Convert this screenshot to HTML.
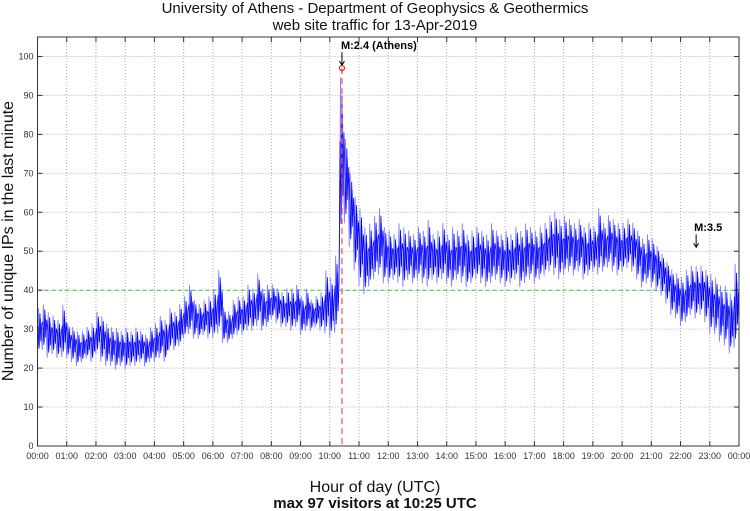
<!DOCTYPE html>
<html><head><meta charset="utf-8"><style>
html,body{margin:0;padding:0;background:#fff;}
svg{display:block;font-family:"Liberation Sans",sans-serif;}
</style></head><body>
<svg id="chart" width="750" height="511" viewBox="0 0 750 511">
<text x="375" y="13" text-anchor="middle" font-size="15" fill="#111">University of Athens - Department of Geophysics &amp; Geothermics</text>
<text x="375" y="30" text-anchor="middle" font-size="15" fill="#111">web site traffic for 13-Apr-2019</text>
<text transform="translate(13,241) rotate(-90)" text-anchor="middle" font-size="16" fill="#111">Number of unique IPs in the last minute</text>
<text x="375" y="492" text-anchor="middle" font-size="16" fill="#111">Hour of day (UTC)</text>
<text x="375" y="508" text-anchor="middle" font-size="15" font-weight="bold" fill="#111">max 97 visitors at 10:25 UTC</text>
<g id="grid"></g>
<g id="series"></g>
<g id="axes"></g>
<g id="annot"></g>
</svg>
<script>
const yTicks=[0,10,20,30,40,50,60,70,80,90,100];
const xTickLabels=["00:00","01:00","02:00","03:00","04:00","05:00","06:00","07:00","08:00","09:00","10:00","11:00","12:00","13:00","14:00","15:00","16:00","17:00","18:00","19:00","20:00","21:00","22:00","23:00","00:00"];
// 10-minute bins: low and high of per-minute unique IPs
const binLow=[23,24,22,23,22,22, 22,21,20,21,22,21, 23,21,20,20,19,20, 19,20,20,21,20,21, 21,22,21,24,24,25, 27,28,27,27,28,27,
27,28,26,26,27,28, 28,29,29,30,29,30, 32,31,30,30,29,30, 28,29,29,30,29,28, 27,28,50,56,50,44, 40,38,40,42,43,41,
41,42,41,40,42,41, 42,41,40,42,41,42, 41,40,42,41,40,41, 42,41,40,41,42,41, 40,41,42,40,41,42, 41,42,43,44,43,42,
43,44,43,44,42,43, 44,43,44,45,44,43, 44,45,44,42,40,41, 40,39,38,36,33,32, 30,31,33,32,33,31, 28,28,26,25,23,24];
const binHigh=[36,37,35,34,33,37, 32,31,30,30,31,32, 35,34,32,31,31,30, 31,30,31,30,29,31, 32,34,33,36,35,37, 39,42,38,37,38,39,
41,46,36,35,38,39, 39,42,41,45,41,42, 42,41,40,41,41,42, 39,41,38,39,40,46, 44,50,97,80,71,65, 62,57,58,60,62,57,
56,55,58,57,56,55, 57,56,59,55,56,58, 55,57,56,58,55,56, 57,56,55,58,56,55, 56,55,57,56,58,57, 56,57,58,60,61,59,
60,59,58,59,57,58, 57,62,58,60,59,58, 58,59,58,56,54,55, 54,52,50,48,46,45, 44,46,47,47,47,46, 45,44,42,42,40,48];
const refLevel=[40];
const events=[{label:"M:2.4 (Athens)",minute:625,value:97},{label:"M:3.5",minute:1352,value:50}];

const NS="http://www.w3.org/2000/svg";
const L=37.5,R=739,T=37,B=446;
const x=m=>L+(R-L)*m/1440;
const y=v=>B-(B-T)*v/105;
function mk(tag,attrs,parent){const e=document.createElementNS(NS,tag);for(const k in attrs)e.setAttribute(k,attrs[k]);parent.appendChild(e);return e;}
const grid=document.getElementById('grid'),axes=document.getElementById('axes'),series=document.getElementById('series'),annot=document.getElementById('annot');

yTicks.forEach(v=>{
  const g=mk('line',{x1:L,x2:R,y1:y(v),y2:y(v),stroke:'#aaa','stroke-dasharray':'1,2','stroke-width':1},grid);
  
  
  mk('line',{x1:L,x2:L+5,y1:y(v),y2:y(v),stroke:'#333'},axes);
  mk('line',{x1:R-5,x2:R,y1:y(v),y2:y(v),stroke:'#333'},axes);
  const t=mk('text',{x:L-4,y:y(v)+3,'text-anchor':'end','font-size':9,fill:'#333'},axes);
  t.textContent=v;
  
  
});
xTickLabels.forEach((lab,i)=>{
  const xx=x(i*60);
  const g=mk('line',{x1:xx,x2:xx,y1:T,y2:B,stroke:'#aaa','stroke-dasharray':'1,2','stroke-width':1},grid);
  
  
  mk('line',{x1:xx,x2:xx,y1:B,y2:B-5,stroke:'#333'},axes);
  mk('line',{x1:xx,x2:xx,y1:T,y2:T+5,stroke:'#333'},axes);
  const t=mk('text',{x:xx,y:B+13,'text-anchor':'middle','font-size':9,fill:'#333'},axes);
  t.textContent=lab;
  
  
});
const frame=mk('rect',{x:L,y:T,width:R-L,height:B-T,fill:'none',stroke:'#333','stroke-width':1},axes);



refLevel.forEach(v=>{
  const l=mk('line',{x1:L,x2:R,y1:y(v),y2:y(v),stroke:'#3c3','stroke-dasharray':'4,3','stroke-width':1},grid);
  
  
});

// zigzag rendering within each bin between its low and high
const pat=[0.05,0.95,0.2,0.75,0.4];
const patB=[0.6,0.15,0.85,0.3,0.65];
let ptsA=[],ptsB=[];
binLow.forEach((lo,i)=>{
  const hi=binHigh[i];
  for(let k=0;k<5;k++){
    const m=i*10+k*2;
    ptsA.push(x(m).toFixed(2)+','+y(lo+(hi-lo)*pat[k]).toFixed(2));
    ptsB.push(x(m+1).toFixed(2)+','+y(lo+(hi-lo)*patB[k]).toFixed(2));
  }
});
const la=mk('polyline',{points:ptsA.join(' '),fill:'none',stroke:'#8080ff','stroke-width':0.9},series);


const lb=mk('polyline',{points:ptsB.join(' '),fill:'none',stroke:'#0000ff','stroke-width':0.8},series);



// annotations
const ev0=events[0];
const vl=mk('line',{x1:x(ev0.minute),x2:x(ev0.minute),y1:y(ev0.value),y2:B,stroke:'#f55','stroke-dasharray':'6,4','stroke-width':1.3},annot);


const c=mk('circle',{cx:x(ev0.minute),cy:y(ev0.value),r:2.5,fill:'none',stroke:'#e00','stroke-width':1},annot);


events.forEach((ev,i)=>{
  const ax=x(ev.minute),ay=y(ev.value)-(i==0?3:4);
  const top=ay-13;
  mk('line',{x1:ax,x2:ax,y1:top,y2:ay,stroke:'#000','stroke-width':1},annot);
  mk('path',{d:`M${ax-2.5},${ay-4} L${ax},${ay} L${ax+2.5},${ay-4}`,fill:'none',stroke:'#000','stroke-width':1},annot);
  const t=mk('text',{x:ax-(i==0?1:2),y:top-3,'font-size':11,'font-weight':'bold',fill:'#000'},annot);
  t.textContent=ev.label;
  
  
});
</script>
</body></html>
